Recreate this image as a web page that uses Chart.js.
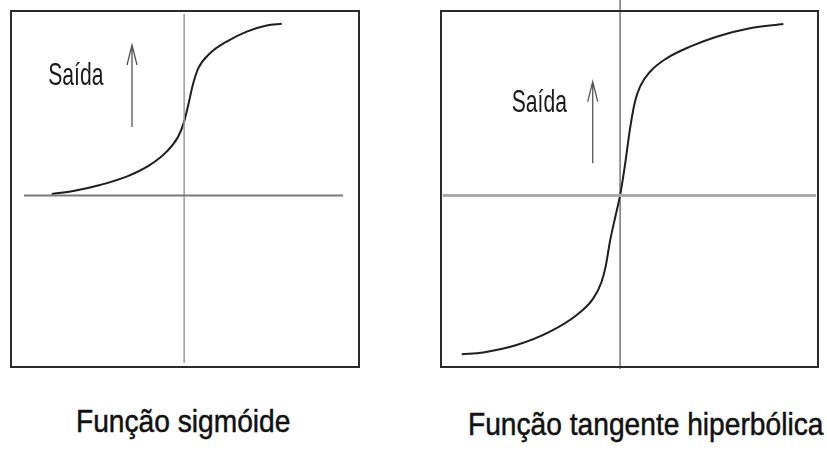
<!DOCTYPE html>
<html>
<head>
<meta charset="utf-8">
<script src="https://cdn.jsdelivr.net/npm/chart.js@4"></script>
<style>
  body { margin: 0; background: #fff; width: 827px; height: 456px; position: relative; overflow: hidden; }
  canvas { position: absolute; top: 0; }
  #sigChart { left: 0; }
  #tanhChart { left: 420px; }
  .caption {
    position: absolute;
    font-family: "Liberation Sans", Arial, sans-serif;
    font-size: 32px;
    line-height: 32px;
    color: #111;
    -webkit-text-stroke: 0.5px #111;
    white-space: nowrap;
    transform: scaleX(0.88);
    transform-origin: 0 0;
  }
</style>
</head>
<body>
<canvas id="sigChart" width="370" height="380"></canvas>
<canvas id="tanhChart" width="407" height="380"></canvas>
<div class="caption" style="left:76px; top:405px;">Função sigmóide</div>
<div class="caption" style="left:468px; top:408px;">Função tangente hiperbólica</div>

<script>
// Sigmoid curve (left panel)
const sigX = [-7.65, -6.4, -4.86, -3.32, -1.97, -1.01, -0.34, 0, 0.24, 0.5, 0.82, 1.5, 2.46, 3.62, 4.77, 5.64];
const sigY = [0.009, 0.026, 0.061, 0.11, 0.178, 0.255, 0.343, 0.43, 0.528, 0.644, 0.742, 0.829, 0.897, 0.955, 0.99, 1.0];

// Hyperbolic tangent curve (right panel)
const tanhX = [-8.4, -7.26, -5.49, -3.72, -2.3, -1.42, -0.98, -0.75, -0.54, -0.23, 0, 0.26, 0.53, 0.79, 1.06, 1.59, 2.47, 3.71, 5.12, 6.89, 8.66];
const tanhY = [-0.926, -0.915, -0.872, -0.794, -0.697, -0.6, -0.503, -0.406, -0.27, -0.114, 0, 0.177, 0.391, 0.546, 0.634, 0.721, 0.799, 0.867, 0.925, 0.974, 0.999];

// Extents of the drawn axis lines
const sigAxisX = [-9.25, 9.18];
const sigAxisY = [-0.977, 1.058];
const tanhAxisX = [-9.4, 10.39];
const tanhAxisY = [-1.012, 1.139];

const toPoints = (xs, ys) => xs.map((x, i) => ({ x: x, y: ys[i] }));

// box around the plot area, plus the "Saída" label and arrow
const panelPlugin = {
  id: 'panel',
  afterDatasetsDraw(chart, args, opts) {
    const ctx = chart.ctx;
    const a = chart.chartArea;
    const xs = chart.scales.x;
    const ys = chart.scales.y;
    ctx.save();

    ctx.strokeStyle = '#2a2a2a';
    ctx.lineWidth = 2;
    ctx.strokeRect(a.left, a.top, a.right - a.left, a.bottom - a.top);

    // arrow
    const ax = xs.getPixelForValue(opts.arrowX);
    const top = ys.getPixelForValue(opts.arrowTop);
    const bottom = ys.getPixelForValue(opts.arrowBottom);
    ctx.strokeStyle = '#555';
    ctx.lineWidth = 1.3;
    ctx.beginPath();
    ctx.moveTo(ax, bottom);
    ctx.lineTo(ax, top);
    ctx.moveTo(ax - 5, top + 20);
    ctx.lineTo(ax, top);
    ctx.lineTo(ax + 5, top + 20);
    ctx.stroke();

    // label
    ctx.translate(xs.getPixelForValue(opts.labelX), ys.getPixelForValue(opts.labelY));
    ctx.scale(0.66, 1);
    ctx.fillStyle = '#1a1a1a';
    ctx.font = '32px "Liberation Sans", Arial, sans-serif';
    ctx.textBaseline = 'alphabetic';
    ctx.fillText('Saída', 0, 0);
    ctx.restore();
  }
};

function makeChart(id, curve, axisX, axisY, styles, xRange, padding, panel) {
  return new Chart(document.getElementById(id), {
    type: 'scatter',
    data: {
      datasets: [
        {
          data: [{ x: axisX[0], y: 0 }, { x: axisX[1], y: 0 }],
          borderColor: styles.hColor,
          borderWidth: styles.hWidth,
          showLine: true,
          pointRadius: 0,
          clip: false,
        },
        {
          data: [{ x: 0, y: axisY[0] }, { x: 0, y: axisY[1] }],
          borderColor: styles.vColor,
          borderWidth: styles.vWidth,
          showLine: true,
          pointRadius: 0,
          clip: false,
        },
        {
          data: curve,
          borderColor: '#1e1e1e',
          borderWidth: 2,
          showLine: true,
          pointRadius: 0,
          cubicInterpolationMode: 'monotone',
        },
      ],
    },
    options: {
      responsive: false,
      animation: false,
      layout: { padding: padding },
      plugins: {
        legend: { display: false },
        tooltip: { enabled: false },
        panel: panel,
      },
      scales: {
        x: { type: 'linear', min: xRange[0], max: xRange[1], display: false },
        y: { type: 'linear', min: -1.0, max: 1.075, display: false },
      },
    },
    plugins: [panelPlugin],
  });
}

const sigChart = makeChart(
  'sigChart',
  toPoints(sigX, sigY),
  sigAxisX,
  sigAxisY,
  { hColor: '#7a7a7a', hWidth: 2, vColor: '#999', vWidth: 1.5 },
  [-10, 10.1],
  { left: 11, top: 11, right: 11, bottom: 13 },
  { arrowX: -3.01, arrowTop: 0.877, arrowBottom: 0.399, labelX: -7.85, labelY: 0.643 }
);

const tanhChart = makeChart(
  'tanhChart',
  toPoints(tanhX, tanhY),
  tanhAxisX,
  tanhAxisY,
  { hColor: '#aaa', hWidth: 3, vColor: '#333', vWidth: 1 },
  [-9.5, 10.5],
  { left: 21, top: 11, right: 9, bottom: 13 },
  { arrowX: -1.45, arrowTop: 0.663, arrowBottom: 0.187, labelX: -5.75, labelY: 0.488 }
);
</script>
</body>
</html>
